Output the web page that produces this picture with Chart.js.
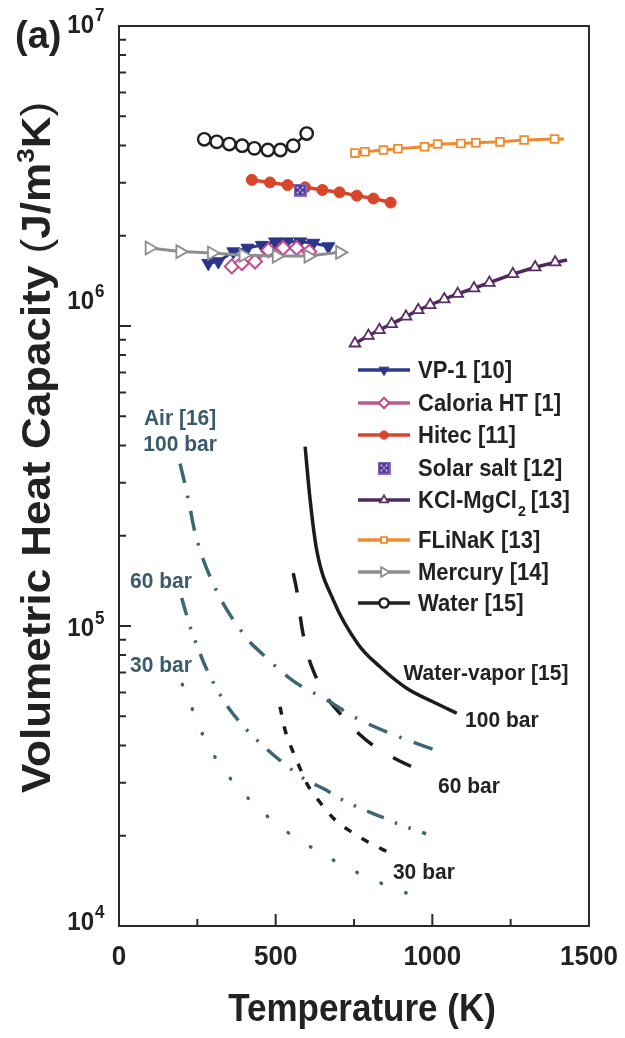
<!DOCTYPE html>
<html>
<head>
<meta charset="utf-8">
<script src="https://cdn.jsdelivr.net/npm/chart.js@4.4.0/dist/chart.umd.min.js"></script>
<style>
  body { margin: 0; background: #fff; }
  canvas { display: block; }
</style>
</head>
<body>
<canvas id="myChart" width="625" height="1038"></canvas>
<script>
// temperature (K) / volumetric heat capacity (J/m3K)
const vp1T = [285, 317, 365, 410, 456, 498, 536, 578, 620, 668];
const vp1C = [1.62e6, 1.64e6, 1.77e6, 1.82e6, 1.86e6, 1.91e6, 1.91e6, 1.91e6, 1.89e6, 1.84e6];

const caloriaT = [360, 392, 434, 477, 524, 567, 607];
const caloriaC = [1.58e6, 1.62e6, 1.64e6, 1.79e6, 1.82e6, 1.82e6, 1.77e6];

const hitecT = [424, 482, 538, 594, 649, 704, 759, 812, 867];
const hitecC = [3.07e6, 3.01e6, 2.95e6, 2.90e6, 2.84e6, 2.79e6, 2.72e6, 2.66e6, 2.58e6];

const solarT = [578];
const solarC = [2.84e6];

const kclT = [753, 796, 831, 870, 916, 955, 993, 1038, 1081, 1133, 1182, 1257, 1328, 1392, 1430];
const kclC = [8.75e5, 9.28e5, 9.70e5, 1.016e6, 1.075e6, 1.13e6, 1.175e6, 1.228e6, 1.28e6, 1.336e6, 1.394e6, 1.49e6, 1.57e6, 1.63e6, 1.66e6];

const flinakT = [753, 785, 844, 890, 975, 1017, 1091, 1139, 1216, 1293, 1390, 1420];
const flinakC = [3.77e6, 3.81e6, 3.86e6, 3.90e6, 3.96e6, 4.04e6, 4.06e6, 4.08e6, 4.11e6, 4.17e6, 4.20e6, 4.20e6];

const mercuryT = [97, 195, 296, 397, 503, 604, 705];
const mercuryC = [1.82e6, 1.77e6, 1.75e6, 1.72e6, 1.71e6, 1.71e6, 1.76e6];

const waterT = [272, 312, 352, 393, 432, 475, 515, 556, 599];
const waterC = [4.19e6, 4.11e6, 4.04e6, 3.99e6, 3.91e6, 3.86e6, 3.86e6, 3.99e6, 4.38e6];

const air100T = [195, 221, 243, 301, 408, 456, 556, 663, 759, 907, 1003];
const air100C = [3.48e5, 2.65e5, 2.04e5, 1.38e5, 9.1e4, 8.1e4, 6.56e4, 5.67e4, 4.92e4, 4.22e4, 3.88e4];

const air60T = [200, 229, 248, 278, 314, 347, 408, 475, 523, 594, 661, 708, 777, 842, 890, 980];
const air60C = [1.24e5, 9.8e4, 8.65e4, 7.24e4, 6.12e4, 5.38e4, 4.5e4, 3.86e4, 3.5e4, 3.08e4, 2.84e4, 2.65e4, 2.45e4, 2.30e4, 2.19e4, 2.03e4];

const air30T = [202, 234, 266, 309, 368, 440, 514, 588, 661, 732, 807, 876, 948];
const air30C = [6.39e4, 5.28e4, 4.37e4, 3.62e4, 2.99e4, 2.50e4, 2.14e4, 1.90e4, 1.71e4, 1.56e4, 1.43e4, 1.34e4, 1.25e4];

const wv100T = [594, 610, 631, 684, 763, 833, 918, 1000, 1078];
const wv100C = [3.96e5, 2.63e5, 1.79e5, 1.22e5, 8.7e4, 7.31e4, 6.2e4, 5.6e4, 5.12e4];

const wv60T = [556, 567, 583, 600, 625, 663, 706, 769, 817, 891, 939];
const wv60C = [1.5e5, 1.32e5, 1.0e5, 8.2e4, 6.9e4, 5.8e4, 5.1e4, 4.34e4, 3.96e4, 3.57e4, 3.38e4];

const wv30T = [514, 530, 551, 578, 599, 642, 693, 748, 801, 865];
const wv30C = [5.38e4, 4.5e4, 3.91e4, 3.35e4, 2.99e4, 2.58e4, 2.24e4, 2.04e4, 1.89e4, 1.75e4];

const xMajorTicks = [0, 500, 1000, 1500];
const xMinorTicks = [250, 750, 1250];
const yDecades = [4, 5, 6, 7];

const FONT = '"Liberation Sans", Arial, Helvetica, sans-serif';
const AIR = '#3d6673';
const AIR_TEXT = '#3b5a6b';

const pts = (xs, ys) => xs.map((x, i) => ({ x: x, y: ys[i] }));
// no marker on the last point (line runs a little past the last symbol)
const lastBare = (xs, r) => xs.map((x, i) => (i === xs.length - 1 ? 0 : r));

// solar salt symbol: purple square with white dots
const solarIcon = document.createElement('canvas');
solarIcon.width = 13;
solarIcon.height = 13;
(() => {
    const c = solarIcon.getContext('2d');
    c.fillStyle = '#8a6cbc';
    c.fillRect(0, 0, 13, 13);
    c.fillStyle = '#4a3592';
    c.fillRect(1.5, 1.5, 10, 10);
    c.fillStyle = '#ffffff';
    [[4, 4], [9, 4], [6.5, 6.5], [4, 9], [9, 9]].forEach(p => {
        c.beginPath();
        c.arc(p[0], p[1], 0.9, 0, Math.PI * 2);
        c.fill();
    });
})();

const curveLabels = [
    { text: 'Air [16]', x: 195, y: 4.97e5, color: AIR_TEXT },
    { text: '100 bar', x: 195, y: 4.07e5, color: AIR_TEXT },
    { text: '60 bar', x: 134, y: 1.42e5, color: AIR_TEXT },
    { text: '30 bar', x: 134, y: 7.47e4, color: AIR_TEXT },
    { text: 'Water-vapor [15]', x: 1171, y: 7.03e4, color: '#222' },
    { text: '100 bar', x: 1222, y: 4.9e4, color: '#222' },
    { text: '60 bar', x: 1117, y: 2.95e4, color: '#222' },
    { text: '30 bar', x: 973, y: 1.53e4, color: '#222' },
];

const datasets = [
    {
        label: 'Solar salt [12]', data: pts(solarT, solarC), showLine: false,
        pointStyle: solarIcon, pointRadius: 6,
    },
    {
        label: 'Mercury [14]', data: pts(mercuryT, mercuryC), showLine: true,
        borderColor: '#8e8e8e', borderWidth: 3, pointStyle: 'triangle', pointRotation: 90,
        pointRadius: 7.5, pointBackgroundColor: '#fff', pointBorderColor: '#8e8e8e', pointBorderWidth: 1.8,
    },
    {
        label: 'Caloria HT [1]', data: pts(caloriaT, caloriaC), showLine: true,
        borderColor: '#b95a95', borderWidth: 3, pointStyle: 'rectRot',
        pointRadius: 7, pointBackgroundColor: '#fff', pointBorderColor: '#c2498f', pointBorderWidth: 2,
    },
    {
        label: 'VP-1 [10]', data: pts(vp1T, vp1C), showLine: true,
        borderColor: '#2e3a8e', borderWidth: 3, pointStyle: 'triangle', pointRotation: 180,
        pointRadius: 7.5, pointBackgroundColor: '#2b358a', pointBorderColor: '#2b358a', pointBorderWidth: 1,
    },
    {
        label: 'Hitec [11]', data: pts(hitecT, hitecC), showLine: true,
        borderColor: '#d8452a', borderWidth: 3.5, pointStyle: 'circle',
        pointRadius: 5.5, pointBackgroundColor: '#d8452a', pointBorderColor: '#d8452a', pointBorderWidth: 1,
    },
    {
        label: 'Water [15]', data: pts(waterT, waterC), showLine: true,
        borderColor: '#222', borderWidth: 2.5, pointStyle: 'circle',
        pointRadius: 6.2, pointBackgroundColor: '#fff', pointBorderColor: '#1e1e1e', pointBorderWidth: 2.4,
    },
    {
        label: 'FLiNaK [13]', data: pts(flinakT, flinakC), showLine: true,
        borderColor: '#f08a2e', borderWidth: 3, pointStyle: 'rect',
        pointRadius: lastBare(flinakT, 5.5), pointBackgroundColor: '#fff', pointBorderColor: '#f08a2e', pointBorderWidth: 1.8,
    },
    {
        label: 'KCl-MgCl2 [13]', data: pts(kclT, kclC), showLine: true,
        borderColor: '#4d2a5a', borderWidth: 3.5, pointStyle: 'triangle',
        pointRadius: lastBare(kclT, 6.2), pointBackgroundColor: '#fff', pointBorderColor: '#5b2d66', pointBorderWidth: 1.8,
    },
    {
        label: 'Air 100 bar', data: pts(air100T, air100C), showLine: true, pointRadius: 0,
        borderColor: AIR, borderWidth: 3.5, borderDash: [20, 13, 2.5, 13], cubicInterpolationMode: 'monotone',
    },
    {
        label: 'Air 60 bar', data: pts(air60T, air60C), showLine: true, pointRadius: 0,
        borderColor: AIR, borderWidth: 3.5, borderDash: [18, 12, 2.5, 12, 2.5, 12], cubicInterpolationMode: 'monotone',
    },
    {
        label: 'Air 30 bar', data: pts(air30T, air30C), showLine: true, pointRadius: 0,
        borderColor: AIR, borderWidth: 3.5, borderDash: [0.5, 26], borderCapStyle: 'round', cubicInterpolationMode: 'monotone',
    },
    {
        label: 'Water-vapor 100 bar', data: pts(wv100T, wv100C), showLine: true, pointRadius: 0,
        borderColor: '#1c1c1c', borderWidth: 3.5, cubicInterpolationMode: 'monotone',
    },
    {
        label: 'Water-vapor 60 bar', data: pts(wv60T, wv60C), showLine: true, pointRadius: 0,
        borderColor: '#1c1c1c', borderWidth: 3.5, borderDash: [20, 24], cubicInterpolationMode: 'monotone',
    },
    {
        label: 'Water-vapor 30 bar', data: pts(wv30T, wv30C), showLine: true, pointRadius: 0,
        borderColor: '#1c1c1c', borderWidth: 3.5, borderDash: [8, 12], cubicInterpolationMode: 'monotone',
    },
];

const legendOrder = ['VP-1 [10]', 'Caloria HT [1]', 'Hitec [11]', 'Solar salt [12]',
    'KCl-MgCl2 [13]', 'FLiNaK [13]', 'Mercury [14]', 'Water [15]'];

const text = (ctx, str, x, y, size, opts) => {
    opts = opts || {};
    ctx.save();
    ctx.translate(x, y);
    ctx.scale(1, opts.sy || 1);
    ctx.font = (opts.weight || 'bold') + ' ' + size + 'px ' + FONT;
    ctx.fillStyle = opts.color || '#222';
    ctx.textAlign = opts.align || 'left';
    ctx.textBaseline = opts.baseline || 'alphabetic';
    ctx.fillText(str, 0, 0);
    const w = ctx.measureText(str).width;
    ctx.restore();
    return w;
};

const drawMarker = (ctx, ds, x, y, scale) => {
    const style = ds.pointStyle;
    ctx.save();
    ctx.translate(x, y);
    if (style instanceof HTMLCanvasElement) {
        ctx.drawImage(style, -style.width / 2, -style.height / 2);
        ctx.restore();
        return;
    }
    const r = (Array.isArray(ds.pointRadius) ? ds.pointRadius[0] : ds.pointRadius) * scale;
    const rad = (ds.pointRotation || 0) * Math.PI / 180;
    ctx.beginPath();
    if (style === 'circle') {
        ctx.arc(0, 0, r, 0, Math.PI * 2);
    } else if (style === 'rect') {
        const s = r * Math.SQRT1_2;
        ctx.rect(-s, -s, 2 * s, 2 * s);
    } else if (style === 'rectRot') {
        ctx.moveTo(0, -r); ctx.lineTo(r, 0); ctx.lineTo(0, r); ctx.lineTo(-r, 0);
    } else if (style === 'triangle') {
        for (let k = 0; k < 3; k++) {
            const a = rad + k * 2 * Math.PI / 3;
            const px = Math.sin(a) * r, py = -Math.cos(a) * r;
            if (k === 0) ctx.moveTo(px, py); else ctx.lineTo(px, py);
        }
    }
    ctx.closePath();
    ctx.fillStyle = ds.pointBackgroundColor;
    ctx.fill();
    ctx.lineWidth = ds.pointBorderWidth;
    ctx.strokeStyle = ds.pointBorderColor;
    ctx.stroke();
    ctx.restore();
};

const decorations = {
    id: 'decorations',
    afterDraw(chart) {
        const { ctx, chartArea: a, scales: { x, y } } = chart;
        ctx.save();

        // frame + inward ticks
        ctx.strokeStyle = '#2a2a2a';
        ctx.lineWidth = 2;
        ctx.strokeRect(a.left, a.top, a.right - a.left, a.bottom - a.top);
        ctx.beginPath();
        yDecades.forEach(d => {
            for (let m = 1; m < 10; m++) {
                if (d === 7 && m > 1) break;
                const py = y.getPixelForValue(m * Math.pow(10, d));
                ctx.moveTo(a.left, py);
                ctx.lineTo(a.left + (m === 1 ? 12 : 7), py);
            }
        });
        xMajorTicks.forEach(v => {
            const px = x.getPixelForValue(v);
            ctx.moveTo(px, a.bottom);
            ctx.lineTo(px, a.bottom - 12);
        });
        xMinorTicks.forEach(v => {
            const px = x.getPixelForValue(v);
            ctx.moveTo(px, a.bottom);
            ctx.lineTo(px, a.bottom - 7);
        });
        ctx.stroke();

        // tick labels
        xMajorTicks.forEach(v => {
            text(ctx, String(v), x.getPixelForValue(v), a.bottom + 39, 26, { align: 'center', sy: 1.08 });
        });
        const yOff = { 4: 4, 5: 10, 6: -17, 7: 7 };
        yDecades.forEach(d => {
            const py = y.getPixelForValue(Math.pow(10, d)) + yOff[d];
            text(ctx, '10', 94, py, 24, { align: 'right', sy: 1.08 });
            text(ctx, String(d), 95, py - 12, 17, { sy: 1.08 });
        });

        // axis titles
        text(ctx, 'Temperature (K)', (a.left + a.right) / 2 + 8, 1021, 35, { align: 'center', sy: 1.12 });
        ctx.save();
        ctx.translate(50, 793);
        ctx.rotate(-Math.PI / 2);
        ctx.scale(1.1, 1);
        ctx.fillStyle = '#222';
        ctx.textBaseline = 'alphabetic';
        let cx = 0;
        [
            { t: 'Volumetric Heat Capacity ', w: 'bold', s: 40, dy: 0 },
            { t: '(', w: 'normal', s: 40, dy: 0 },
            { t: 'J/m', w: 'bold', s: 40, dy: 0 },
            { t: '3', w: 'bold', s: 24, dy: -16 },
            { t: 'K', w: 'bold', s: 40, dy: 0 },
            { t: ')', w: 'normal', s: 40, dy: 0 },
        ].forEach(s => {
            ctx.font = s.w + ' ' + s.s + 'px ' + FONT;
            ctx.fillText(s.t, cx, s.dy);
            cx += ctx.measureText(s.t).width;
        });
        ctx.restore();

        text(ctx, '(a)', 15, 48, 38);

        // curve labels
        curveLabels.forEach(l => {
            text(ctx, l.text, x.getPixelForValue(l.x), y.getPixelForValue(l.y) + 8, 21,
                { align: 'center', color: l.color, sy: 1.05 });
        });

        // legend
        const rowY = [370, 403, 435, 468, 500, 540, 572, 603];
        legendOrder.forEach((name, i) => {
            const ds = chart.data.datasets.find(d => d.label === name);
            const cy = rowY[i];
            if (ds.showLine) {
                ctx.beginPath();
                ctx.strokeStyle = ds.borderColor;
                ctx.lineWidth = 3.5;
                ctx.moveTo(358, cy);
                ctx.lineTo(410, cy);
                ctx.stroke();
            }
            drawMarker(ctx, ds, 384, cy, 0.75);
            if (name === 'KCl-MgCl2 [13]') {
                let tx = 418;
                tx += text(ctx, 'KCl-MgCl', tx, cy + 8, 22, { sy: 1.06 });
                tx += text(ctx, '2', tx + 1, cy + 16, 14, { sy: 1.06 }) + 6;
                text(ctx, '[13]', tx, cy + 8, 22, { sy: 1.06 });
            } else {
                text(ctx, name, 418, cy + 8, 22, { sy: 1.06 });
            }
        });

        ctx.restore();
    },
};

window.onload = () => {
    const ctx = document.getElementById('myChart').getContext('2d');
    new Chart(ctx, {
        type: 'scatter',
        data: { datasets: datasets },
        options: {
            responsive: false,
            animation: false,
            layout: { padding: { left: 119, right: 36, top: 26, bottom: 112 } },
            plugins: { legend: { display: false }, tooltip: { enabled: false } },
            scales: {
                x: { type: 'linear', min: 0, max: 1500, display: false },
                y: { type: 'logarithmic', min: 1e4, max: 1e7, display: false },
            },
        },
        plugins: [decorations],
    });
};
</script>
</body>
</html>
